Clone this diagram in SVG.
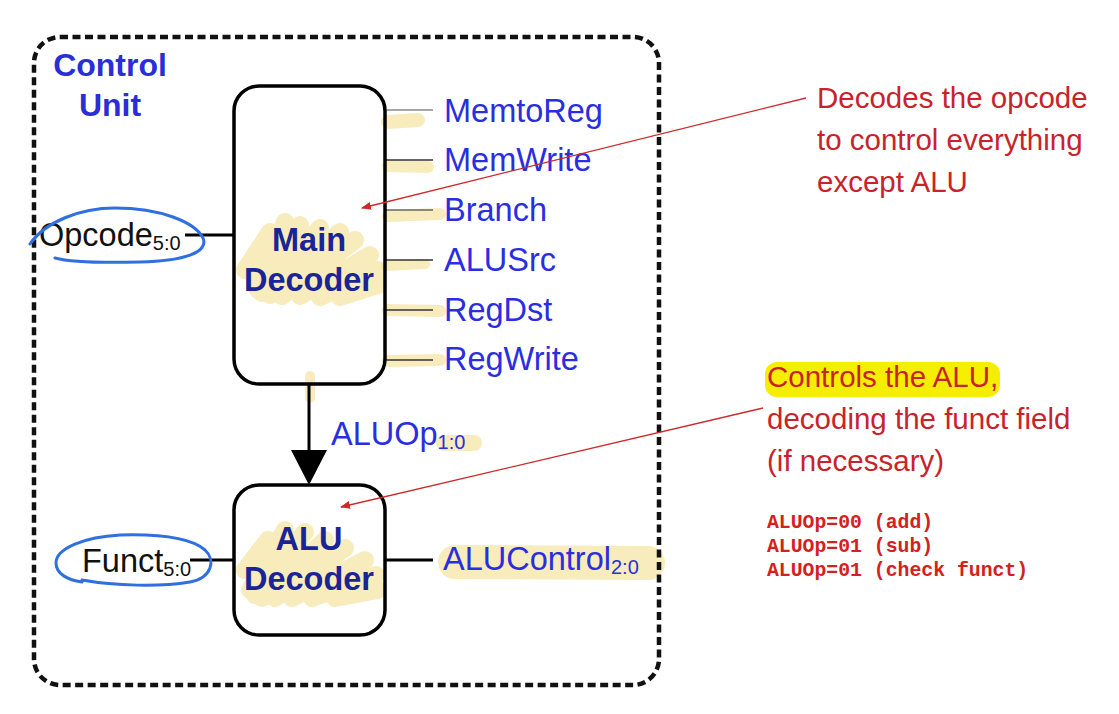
<svg xmlns="http://www.w3.org/2000/svg" width="1119" height="714" viewBox="0 0 1119 714">
<defs>
<style>
.box{fill:none;stroke:#000;stroke-width:3.5}
.wire{stroke:#000;stroke-width:3;fill:none}
.thin{stroke:#333;stroke-width:1.6}
.sig{font-family:"Liberation Sans",Arial,sans-serif;font-size:32.5px;fill:#2a2ee0}
.sub{font-size:20px}
.blk{font-family:"Liberation Sans",Arial,sans-serif;font-size:32.5px;fill:#111}
.title{font-family:"Liberation Sans",Arial,sans-serif;font-size:32.5px;font-weight:bold;fill:#1a2496;text-anchor:middle}
.cu{font-family:"Liberation Sans",Arial,sans-serif;font-size:32px;font-weight:bold;fill:#2a2ed8;text-anchor:middle}
.note{font-family:"Liberation Sans",Arial,sans-serif;font-size:29.5px;fill:#c8232b}
.code{font-family:"Liberation Mono","Courier New",monospace;font-size:19.8px;font-weight:bold;fill:#d42020}
.hl{fill:none;stroke:#f5e3a0;stroke-linecap:round;stroke-linejoin:round;opacity:0.7}
.pen{fill:none;stroke:#2f6fe0;stroke-width:3;stroke-linecap:round}
.red{stroke:#cc2a2a;stroke-width:1.3;fill:none}
</style>
<marker id="redhead" markerWidth="10" markerHeight="8" refX="9" refY="4" orient="auto" markerUnits="userSpaceOnUse">
<path d="M0,0 L10,4 L0,8 z" fill="#cc2a2a"/>
</marker>
</defs>
<rect width="1119" height="714" fill="#fff"/>

<g id="highlights">
<path class="hl" stroke-width="14" d="M388,122 L418,120"/>
<path class="hl" stroke-width="12" d="M388,166 L428,167"/>
<path class="hl" stroke-width="12" d="M388,216 L440,214"/>
<path class="hl" stroke-width="10" d="M386,266 L425,264"/>
<path class="hl" stroke-width="12" d="M388,310 L440,311"/>
<path class="hl" stroke-width="12" d="M388,361 L440,360"/>
<path class="hl" stroke-width="10" d="M310,376 L310,398"/>
<path class="hl" stroke-width="16" d="M444,443 L474,443"/>
<path class="hl" stroke-width="34" d="M455,562 L648,563"/>
<path class="hl" stroke-width="18" d="M255,285 L285,222 M258,290 L300,225 M262,293 L320,228 M270,295 L340,232 M282,296 L355,240 M300,296 L370,255 M320,297 L378,270 M245,270 L270,232 M340,297 L378,285"/>
<path class="hl" stroke-width="18" d="M250,590 L285,530 M255,595 L305,532 M262,598 L325,540 M275,598 L345,548 M292,598 L365,560 M312,598 L376,575 M245,570 L268,540 M335,598 L378,590"/>
</g>

<g id="control-unit">
<rect x="34" y="37" width="625" height="648" rx="26" ry="26" fill="none" stroke="#111" stroke-width="4.5" stroke-dasharray="8,4.5"/>
<text class="cu" x="110" y="76">Control</text>
<text class="cu" x="110" y="116">Unit</text>
</g>

<g id="connectors">
<line class="wire" x1="185" y1="235" x2="234" y2="235"/>
<line class="wire" x1="190" y1="560" x2="234" y2="560"/>
<line class="wire" x1="385" y1="560" x2="433" y2="560"/>
<line class="thin" x1="385" y1="110" x2="433" y2="110" style="stroke:#888"/>
<line class="thin" x1="385" y1="160" x2="433" y2="160"/>
<line class="thin" x1="385" y1="210" x2="433" y2="210" style="stroke:#666"/>
<line class="thin" x1="385" y1="260" x2="433" y2="260"/>
<line class="thin" x1="385" y1="310" x2="433" y2="310"/>
<line class="thin" x1="385" y1="360" x2="433" y2="360"/>
<line class="wire" x1="309" y1="384" x2="309" y2="452"/>
<path d="M291,450 L327,450 L309,485 z" fill="#000"/>
</g>

<g id="main-decoder">
<rect class="box" x="234" y="86" width="151" height="298" rx="25" ry="25"/>
<text class="title" x="309" y="251">Main</text>
<text class="title" x="309" y="291">Decoder</text>
</g>

<g id="alu-decoder">
<rect class="box" x="234" y="485" width="151" height="150" rx="25" ry="25"/>
<text class="title" x="309" y="550">ALU</text>
<text class="title" x="309" y="590">Decoder</text>
</g>

<g id="signals">
<text class="sig" x="444" y="122">MemtoReg</text>
<text class="sig" x="444" y="171">MemWrite</text>
<text class="sig" x="444" y="221">Branch</text>
<text class="sig" x="444" y="271">ALUSrc</text>
<text class="sig" x="444" y="321">RegDst</text>
<text class="sig" x="444" y="370">RegWrite</text>
<text class="sig" x="331" y="445">ALUOp<tspan class="sub" dy="4">1:0</tspan></text>
<text class="sig" x="443" y="570">ALUControl<tspan class="sub" dy="4">2:0</tspan></text>
</g>

<g id="opcode">
<text class="blk" x="39" y="246">Opcode<tspan class="sub" dy="4">5:0</tspan></text>
<path class="pen" d="M30,244 C45,222 80,208 115,208 C160,208 195,222 203,238 C209,252 185,261 140,262 C100,263 70,262 55,258"/>
</g>

<g id="funct">
<text class="blk" x="82" y="572">Funct<tspan class="sub" dy="4">5:0</tspan></text>
<path class="pen" d="M82,580 C115,586 160,587 190,582 C212,578 216,560 205,550 C190,537 155,534 120,535 C85,537 56,548 56,563 C56,574 68,580 82,582"/>
</g>

<g id="note-main">
<text class="note" x="817" y="108">Decodes the opcode</text>
<text class="note" x="817" y="150">to control everything</text>
<text class="note" x="817" y="192">except ALU</text>
<line class="red" x1="806" y1="98" x2="362" y2="208" marker-end="url(#redhead)"/>
</g>

<g id="note-alu">
<rect x="765" y="362" width="235" height="35" rx="12" ry="12" fill="#f6ee00"/>
<text class="note" x="767" y="387">Controls the ALU,</text>
<text class="note" x="767" y="429">decoding the funct field</text>
<text class="note" x="767" y="471">(if necessary)</text>
<line class="red" x1="763" y1="408" x2="341" y2="507" marker-end="url(#redhead)"/>
<text class="code" x="767" y="528">ALUOp=00 (add)</text>
<text class="code" x="767" y="552">ALUOp=01 (sub)</text>
<text class="code" x="767" y="576">ALUOp=01 (check funct)</text>
</g>
</svg>
